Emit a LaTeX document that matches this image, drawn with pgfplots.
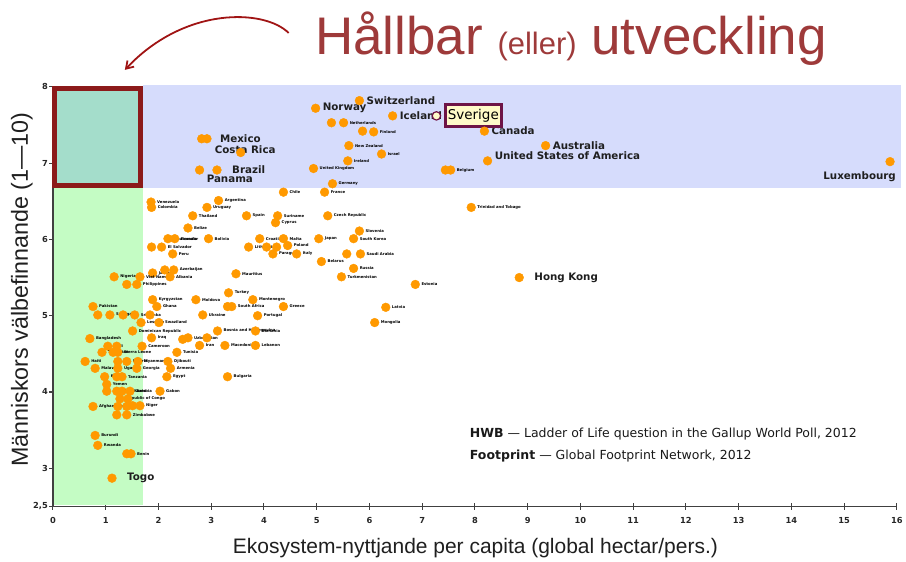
\documentclass[border=0pt]{standalone}
\usepackage{pgfplots}
\pgfplotsset{compat=1.18}
\usepackage{pgfplotstable}
\usepackage{fontspec}
\setmainfont{DejaVu Sans}
\newfontfamily\lib{Liberation Sans}
\usetikzlibrary{arrows.meta}
\definecolor{bandblue}{RGB}{214,220,252}
\definecolor{bandgreen}{RGB}{196,252,196}
\definecolor{boxteal}{RGB}{164,221,203}
\definecolor{boxred}{RGB}{140,26,26}
\definecolor{orangeP}{RGB}{255,153,0}
\definecolor{titlered}{RGB}{158,58,58}
\definecolor{arrowred}{RGB}{160,20,20}
\definecolor{svbord}{RGB}{110,20,70}
\definecolor{svfill}{RGB}{255,250,200}
\definecolor{axisgray}{RGB}{64,64,64}

\pgfplotstableread{
x y lab
5.81 7.82 {}
4.98 7.72 {}
6.44 7.62 {}
5.28 7.53 {}
5.51 7.53 Netherlands
5.87 7.42 {}
6.08 7.41 Finland
8.18 7.42 {}
5.61 7.23 {New Zealand}
9.34 7.23 {}
6.23 7.12 Israel
5.59 7.03 Ireland
8.24 7.03 {}
4.94 6.93 {United Kingdom}
7.44 6.91 {}
7.54 6.91 Belgium
5.30 6.73 Germany
4.37 6.62 Chile
5.15 6.62 France
15.87 7.02 {}
2.82 7.32 {}
2.92 7.32 {}
3.56 7.14 {}
3.11 6.91 {}
2.78 6.91 {}
1.86 6.49 Venezuela
1.87 6.42 Colombia
3.14 6.51 Argentina
2.92 6.42 Uruguay
2.65 6.31 Thailand
3.67 6.31 Spain
4.26 6.31 Suriname
4.22 6.22 Cyprus
5.21 6.31 {Czech Republic}
2.56 6.15 Belize
5.81 6.11 Slovenia
5.04 6.01 Japan
5.70 6.01 {South Korea}
2.18 6.01 Guatemala
2.31 6.01 Ecuador
2.95 6.01 Bolivia
3.92 6.01 Croatia
4.37 6.01 Malta
1.87 5.90 {}
2.06 5.90 {El Salvador}
2.27 5.81 Peru
3.71 5.90 Lithuania
4.05 5.90 {}
4.24 5.90 {}
4.45 5.92 Poland
4.17 5.81 Paraguay
4.62 5.81 Italy
5.57 5.81 {}
5.83 5.81 {Saudi Arabia}
5.09 5.71 Belarus
5.70 5.62 Russia
5.47 5.51 Turkmenistan
6.87 5.41 Estonia
7.93 6.42 {Trinidad and Tobago}
8.84 5.50 {}
6.31 5.11 Latvia
6.10 4.91 Mongolia
4.37 5.12 Greece
3.79 5.21 Montenegro
3.33 5.30 Turkey
3.47 5.55 Mauritius
1.89 5.56 Jamaica
2.12 5.60 {}
2.29 5.60 Azerbaijan
2.22 5.51 Albania
1.16 5.51 Nigeria
1.65 5.51 {Viet Nam}
1.40 5.41 {}
1.59 5.41 Philippines
1.89 5.21 Kyrgyzstan
1.97 5.12 Ghana
2.71 5.21 Moldova
3.31 5.12 {}
3.39 5.12 {South Africa}
2.84 5.01 Ukraine
3.88 5.00 Portugal
3.12 4.80 {Bosnia and Herzegovina}
3.84 4.80 Romania
1.87 4.71 Iraq
2.46 4.69 {}
2.56 4.71 Uzbekistan
2.92 4.71 {}
2.78 4.61 Iran
3.26 4.61 Macedonia
3.84 4.61 Lebanon
2.35 4.52 Tunisia
2.18 4.40 Djibouti
2.23 4.31 Armenia
2.16 4.20 Egypt
3.31 4.20 Bulgaria
2.03 4.01 Gabon
1.67 4.91 Lesotho
2.01 4.91 Swaziland
1.51 4.80 {Dominican Republic}
0.76 5.12 Pakistan
0.85 5.01 {}
1.08 5.01 Senegal
1.33 5.01 {}
1.55 5.01 {Sri Lanka}
1.84 5.01 {}
0.70 4.70 Bangladesh
1.04 4.60 Mali
1.21 4.60 {}
1.69 4.60 Cameroon
0.93 4.52 Tajikistan
1.14 4.52 {}
1.23 4.52 {Sierra Leone}
0.61 4.40 Haiti
1.23 4.40 {}
1.40 4.40 Liberia
1.61 4.40 Myanmar
0.80 4.31 Malawi
1.23 4.31 Uganda
1.59 4.31 Georgia
0.98 4.20 Kenya
1.21 4.20 {}
1.31 4.20 Tanzania
1.02 4.10 Yemen
1.02 4.01 {}
1.21 4.01 Mauritania
1.31 4.01 {}
1.46 4.01 Zambia
1.27 3.91 {Republic of Congo}
1.42 3.91 {}
0.76 3.81 Afghanistan
1.23 3.81 {}
1.40 3.81 Chad
1.51 3.82 {}
1.65 3.82 Niger
1.21 3.70 {}
1.40 3.70 Zimbabwe
0.80 3.43 Burundi
0.85 3.30 Rwanda
1.40 3.19 {}
1.48 3.19 Benin
1.12 2.87 {}
}\pts

\begin{document}
\begin{tikzpicture}
\begin{scope}[x=1pt,y=1pt,shift={(-53pt,-55pt)}]
\useasboundingbox (0,0) rectangle (906,562);
\end{scope}
\begin{axis}[
  scale only axis, width=845pt, height=420pt,
  xmin=0, xmax=16, ymin=2.5, ymax=8,
  axis lines*=left,
  axis line style={line width=1.3pt, color=axisgray},
  xtick={0,1,...,16}, ytick={2.5,3,4,5,6,7,8},
  yticklabels={{2,5},3,4,5,6,7,8},
  tick align=center, major tick length=7pt,
  tick style={line width=1.1pt, color=axisgray},
  ticklabel style={font=\fontsize{8.3}{8.3}\selectfont\bfseries, text=black!85},
  xticklabel style={yshift=-4pt},
  yticklabel style={xshift=2pt},
  /pgf/number format/assume math mode=true,
  clip=false,
]
\addplot[fill=bandblue, draw=none, forget plot] coordinates {(1.7,6.68) (16.08,6.68) (16.08,8.02) (1.7,8.02)} -- cycle;
\addplot[fill=bandgreen, draw=none, forget plot] coordinates {(0.02,2.515) (1.7,2.515) (1.7,6.68) (0.02,6.68)} -- cycle;
\addplot[fill=boxteal, draw=boxred, line width=5pt, forget plot] coordinates {(0.03,6.71) (1.66,6.71) (1.66,7.985) (0.03,7.985)} -- cycle;

\addplot[only marks, mark=*, mark size=4.4pt, color=orangeP,
  mark options={fill=orangeP, draw=orangeP},
  point meta=explicit symbolic,
  nodes near coords, nodes near coords align={west},
  every node near coord/.append style={font=\fontsize{3.8}{4}\selectfont\bfseries, inner sep=0pt, anchor=west, xshift=6pt, text=black}
] table[x=x, y=y, meta=lab] {\pts};

\addplot[only marks, mark=*, mark size=4.2pt, color=svbord,
  mark options={fill=svfill, draw=svbord, line width=1.2pt}] coordinates {(7.27,7.62)};

\tikzset{bigl/.style={font=\fontsize{10.3}{11}\selectfont\bfseries, text=black!88, inner sep=0pt, anchor=west, xshift=7pt}}
\node[bigl] at (axis cs:5.81,7.82) {Switzerland};
\node[bigl] at (axis cs:4.98,7.72) {Norway};
\node[bigl] at (axis cs:6.44,7.62) {Iceland};
\node[bigl] at (axis cs:8.18,7.42) {Canada};
\node[bigl] at (axis cs:9.34,7.23) {Australia};
\node[bigl, yshift=5pt] at (axis cs:8.24,7.03) {United States of America};
\node[bigl, anchor=east, xshift=-1pt, yshift=-15pt] at (axis cs:15.87,7.02) {Luxembourg};
\node[bigl, xshift=6pt] at (axis cs:2.92,7.32) {Mexico};
\node[bigl, anchor=center, xshift=-2.5pt, yshift=3pt] at (axis cs:3.56,7.14) {Costa Rica};
\node[bigl, xshift=8pt] at (axis cs:3.11,6.91) {Brazil};
\node[bigl, yshift=-9pt] at (axis cs:2.78,6.91) {Panama};
\node[bigl, xshift=8pt] at (axis cs:8.84,5.50) {Hong Kong};
\node[bigl, xshift=8pt] at (axis cs:1.12,2.87) {Togo};

\node[draw=svbord, line width=2.8pt, fill=svfill, inner sep=0pt, minimum width=56pt, minimum height=22pt, font=\fontsize{13.5}{14}\selectfont, anchor=center] at (axis cs:7.97,7.62) {Sverige};
\end{axis}

\begin{scope}[x=1pt,y=1pt,shift={(-53pt,-55pt)}]
\node[anchor=base west, text=titlered, font=\lib\fontsize{53}{53}\selectfont] at (312,507) {Hållbar {\fontsize{31}{31}\selectfont(eller)} utveckling};
\draw[arrowred, line width=1.8pt, -{Straight Barb[length=7pt,width=9pt]}] (289,529) .. controls (265,553) and (185,556) .. (125,492);

\node[rotate=90, font=\lib\fontsize{23.3}{24}\selectfont, text=black!88] at (22,272) {Människors välbefinnande (1—10)};
\node[anchor=base, font=\lib\fontsize{21}{21}\selectfont, text=black!88] at (476,8) {Ekosystem-nyttjande per capita (global hectar/pers.)};

\node[anchor=base west, font=\fontsize{12.5}{13}\selectfont, text=black!90] at (467,124) {\textbf{HWB} — Ladder of Life question in the Gallup World Poll, 2012};
\node[anchor=base west, font=\fontsize{12.5}{13}\selectfont, text=black!90] at (467,102) {\textbf{Footprint} — Global Footprint Network, 2012};
\end{scope}
\end{tikzpicture}
\end{document}
